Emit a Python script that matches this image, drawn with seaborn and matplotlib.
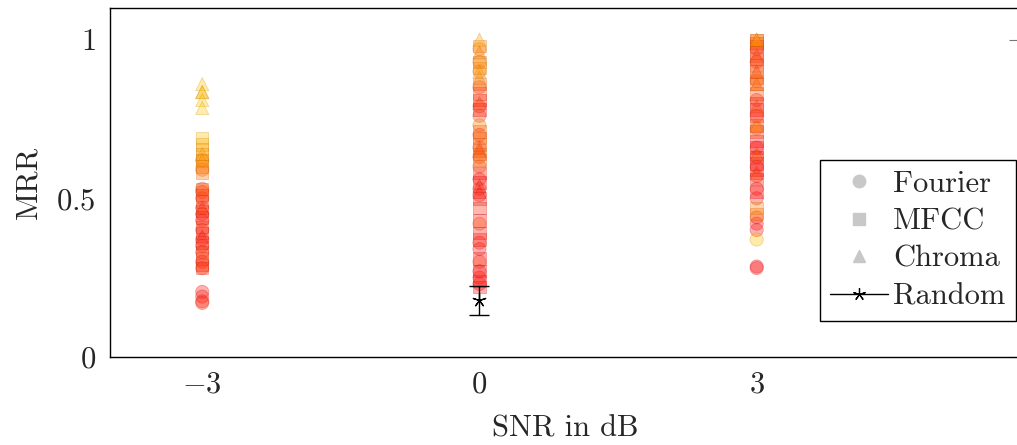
import numpy as np
import pandas as pd
import matplotlib
matplotlib.use("Agg")
import matplotlib.pyplot as plt
from matplotlib.colors import LinearSegmentedColormap
from matplotlib.lines import Line2D
import seaborn as sns

# ---- data ---------------------------------------------------------------
snr_levels = [-3, 0, 3]

# MRR per configuration and a colour value (0 = yellow, 1 = red)
fourier_m3 = [0.62, 0.59, 0.53, 0.52, 0.50, 0.47, 0.45, 0.43, 0.40, 0.37, 0.35, 0.33, 0.30, 0.28, 0.205, 0.19, 0.175, 0.17]
fourier_m3_c = [0.5, 0.55, 0.75, 0.8, 0.85, 0.9, 0.95, 1.0, 0.9, 0.95, 1.0, 0.85, 0.9, 0.8, 1.0, 0.95, 1.0, 0.85]
fourier_0 = [0.97, 0.93, 0.90, 0.85, 0.79, 0.76, 0.73, 0.70, 0.66, 0.63, 0.60, 0.56, 0.53, 0.51, 0.42, 0.36, 0.34, 0.30, 0.27, 0.25, 0.23]
fourier_0_c = [0.45, 0.4, 0.5, 0.75, 0.8, 0.75, 0.45, 0.95, 0.9, 0.65, 0.7, 1.0, 0.85, 1.0, 0.55, 0.9, 1.0, 0.75, 1.0, 0.95, 1.0]
fourier_3 = [0.97, 0.93, 0.87, 0.81, 0.76, 0.72, 0.66, 0.63, 0.60, 0.57, 0.53, 0.50, 0.44, 0.42, 0.40, 0.37, 0.285, 0.28]
fourier_3_c = [0.8, 0.85, 0.65, 0.9, 0.75, 0.7, 1.0, 0.85, 0.9, 0.7, 0.95, 1.0, 0.95, 1.0, 1.0, 0.05, 1.0, 1.0]

mfcc_m3 = [0.69, 0.67, 0.655, 0.64, 0.62, 0.60, 0.58, 0.53, 0.51, 0.49, 0.46, 0.44, 0.41, 0.39, 0.36, 0.33, 0.31, 0.29, 0.28]
mfcc_m3_c = [0.05, 0.15, 0.25, 0.3, 0.45, 0.5, 0.55, 0.7, 0.75, 0.85, 0.85, 0.9, 0.8, 0.95, 0.9, 0.85, 0.8, 0.9, 0.85]
mfcc_0 = [0.98, 0.93, 0.91, 0.86, 0.83, 0.81, 0.78, 0.71, 0.69, 0.67, 0.64, 0.62, 0.58, 0.55, 0.50, 0.47, 0.43, 0.39, 0.37, 0.31, 0.27, 0.24, 0.22]
mfcc_0_c = [0.45, 0.5, 0.4, 0.65, 0.7, 0.95, 1.0, 0.6, 0.55, 0.65, 0.6, 0.65, 0.9, 1.0, 0.95, 0.9, 1.0, 1.0, 0.95, 1.0, 1.0, 0.95, 1.0]
mfcc_3 = [1.0, 1.0, 0.99, 0.98, 0.96, 0.94, 0.92, 0.90, 0.88, 0.86, 0.83, 0.80, 0.78, 0.76, 0.73, 0.71, 0.68, 0.66, 0.63, 0.61, 0.59, 0.56, 0.52, 0.47, 0.45]
mfcc_3_c = [0.55, 0.6, 0.7, 0.75, 0.85, 0.8, 0.75, 0.7, 0.6, 0.65, 0.7, 0.9, 1.0, 1.0, 0.7, 0.75, 1.0, 1.0, 1.0, 1.0, 1.0, 1.0, 1.0, 0.45, 0.5]

chroma_m3 = [0.86, 0.835, 0.835, 0.81, 0.785, 0.64, 0.62, 0.47, 0.38]
chroma_m3_c = [0.0, 0.1, 0.1, 0.0, 0.0, 0.2, 0.35, 0.8, 0.9]
chroma_0 = [1.0, 0.96, 0.90, 0.88, 0.80, 0.66, 0.65, 0.54, 0.52]
chroma_0_c = [0.2, 0.45, 0.3, 0.35, 0.7, 0.65, 0.7, 0.9, 0.95]
chroma_3 = [1.0, 1.0, 0.95, 0.90, 0.86, 0.79, 0.73, 0.64, 0.58]
chroma_3_c = [0.3, 0.35, 0.7, 0.75, 0.6, 0.7, 0.45, 0.65, 0.8]

random_mean = 0.178
random_err = 0.047

legend_labels = ["Fourier", "MFCC", "Chroma", "Random"]

# ---- styling ------------------------------------------------------------
sns.set_theme(style="white")
plt.rcParams["font.family"] = ["cmr10", "DejaVu Serif"]
plt.rcParams["mathtext.fontset"] = "cm"
plt.rcParams["axes.formatter.use_mathtext"] = True
plt.rcParams["axes.unicode_minus"] = False

cmap = LinearSegmentedColormap.from_list("yor", ["#ffc400", "#ff7a00", "#ff1010"])

series = {
    "Fourier": ([fourier_m3, fourier_0, fourier_3], [fourier_m3_c, fourier_0_c, fourier_3_c], "o", 90),
    "MFCC": ([mfcc_m3, mfcc_0, mfcc_3], [mfcc_m3_c, mfcc_0_c, mfcc_3_c], "s", 80),
    "Chroma": ([chroma_m3, chroma_0, chroma_3], [chroma_m3_c, chroma_0_c, chroma_3_c], "^", 90),
}

rows = []
for name, (vals, cols, _, _) in series.items():
    for snr, v, c in zip(snr_levels, vals, cols):
        for mv, cv in zip(v, c):
            rows.append({"SNR": snr, "MRR": mv, "c": cv, "method": name})
df = pd.DataFrame(rows)

fig = plt.figure(figsize=(10.17, 4.45), dpi=100)
ax = fig.add_axes([0.108, 0.198, 0.895, 0.784])

for name, (_, _, marker, size) in series.items():
    sub = df[df["method"] == name]
    n_before = len(ax.collections)
    sns.scatterplot(data=sub, x="SNR", y="MRR", hue="c", palette=cmap, hue_norm=(0, 1),
                    marker=marker, s=size, alpha=0.33, linewidth=0.6, legend=False, ax=ax)
    # outline each mark in a slightly darker shade of its fill
    coll = ax.collections[n_before]
    fc = np.array(coll.get_facecolors())
    ec = fc.copy()
    ec[:, :3] *= 0.8
    coll.set_edgecolors(ec)

# random baseline
ax.errorbar([0], [random_mean], yerr=[random_err], fmt="none", ecolor="black",
            elinewidth=1.0, capsize=7, capthick=1.0, zorder=5)
ax.plot([0], [random_mean], marker=(5, 2, 0), markersize=10, color="black",
        markeredgewidth=0.9, linestyle="none", zorder=6)

ax.set_xlim(-4.0, 5.85)
ax.set_ylim(0, 1.1)
ax.set_xticks(snr_levels)
ax.set_xticklabels([r"$-3$", r"$0$", r"$3$"])
ax.set_yticks([0, 0.5, 1])
ax.set_yticklabels([r"$0$", r"$0.5$", r"$1$"])
ax.tick_params(axis="both", direction="in", length=8, width=0.8, color="#777777",
               labelsize=22, pad=10, top=False, right=True)
ax.set_xlabel("SNR in dB", fontsize=22, labelpad=12)
ax.set_ylabel("MRR", fontsize=22, labelpad=10)
for sp in ax.spines.values():
    sp.set_color("black")
    sp.set_linewidth(1.0)

handles = [
    Line2D([], [], marker="o", color="#c8c8c8", linestyle="none", markersize=9),
    Line2D([], [], marker="s", color="#c8c8c8", linestyle="none", markersize=8),
    Line2D([], [], marker="^", color="#c8c8c8", linestyle="none", markersize=8),
    Line2D([], [], marker=(5, 2, 0), color="black", linewidth=1.0, markersize=9, markeredgewidth=0.9),
]
leg = fig.legend(handles, legend_labels, loc="upper right",
                 bbox_to_anchor=(0.999, 0.641), fontsize=22, frameon=True, fancybox=False,
                 borderaxespad=0, labelspacing=0.33, handlelength=1.9, handletextpad=0.15,
                 borderpad=0.35)
leg.get_frame().set_edgecolor("black")
leg.get_frame().set_linewidth(1.0)
leg.get_frame().set_alpha(1.0)

fig.savefig("out.png", dpi=100)
